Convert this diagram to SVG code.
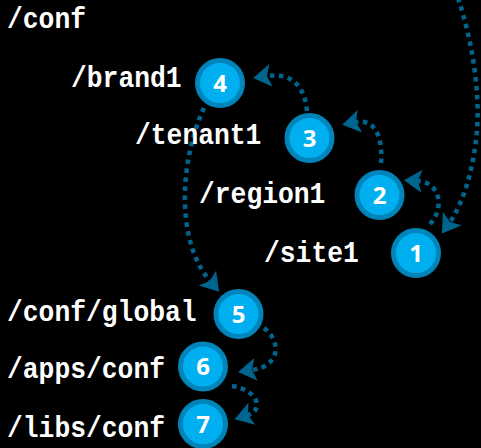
<svg xmlns="http://www.w3.org/2000/svg" width="481" height="448" viewBox="0 0 481 448">
<style>
.lbl{font-family:"Liberation Mono","Courier New",monospace;font-weight:bold;font-size:29px;fill:#ffffff}
.num{font-family:"Open Sans","Noto Sans",sans-serif;font-weight:bold;font-size:24px;fill:#ffffff;text-anchor:middle}
.ring{fill:#00AFEF;stroke:#0084B9;stroke-width:5}
.con{fill:none;stroke:#00658E;stroke-width:4.5;stroke-dasharray:4.5 4.5;marker-end:url(#arr)}
</style>
<defs>
<marker id="arr" markerUnits="userSpaceOnUse" markerWidth="40" markerHeight="40" refX="0" refY="0" orient="auto" overflow="visible">
<path d="M-4,-11.5 L14,0 L-4,11.5 L0,0 Z" fill="#00658E"/>
</marker>
</defs>
<rect width="481" height="448" fill="#000000"/>
<g id="connectors">
<path class="con" d="M458,-2 C472,40 480,90 477,130 C474,170 462,205 450,222"/>
<path class="con" d="M430,224 C445,208 440,182 418,181"/>
<path class="con" d="M381,163 C383,140 376,118 356,122"/>
<path class="con" d="M307,111 C305,90 295,72 267,76"/>
<path class="con" d="M204,108 C180,160 175,240 210,281"/>
<path class="con" d="M264,328 C282,342 280,366 252,370"/>
<path class="con" d="M232,386 C258,390 264,410 248,415"/>
</g>
<g id="conf"><text class="lbl" x="7" y="28" textLength="79" lengthAdjust="spacingAndGlyphs">/conf</text></g>
<g id="n4"><text class="lbl" x="71" y="87" textLength="110.6" lengthAdjust="spacingAndGlyphs">/brand1</text><circle class="ring" cx="220" cy="83" r="22.5"/><text class="num" x="220" y="91.5">4</text></g>
<g id="n3"><text class="lbl" x="135" y="144" textLength="126.4" lengthAdjust="spacingAndGlyphs">/tenant1</text><circle class="ring" cx="309.5" cy="138" r="22.5"/><text class="num" x="309.5" y="146.5">3</text></g>
<g id="n2"><text class="lbl" x="199" y="203" textLength="126.4" lengthAdjust="spacingAndGlyphs">/region1</text><circle class="ring" cx="379.5" cy="195" r="22.5"/><text class="num" x="379.5" y="203.5">2</text></g>
<g id="n1"><text class="lbl" x="264" y="262" textLength="94.8" lengthAdjust="spacingAndGlyphs">/site1</text><circle class="ring" cx="416" cy="253" r="22.5"/><text class="num" x="416" y="261.5">1</text></g>
<g id="n5"><text class="lbl" x="7" y="321" textLength="189.6" lengthAdjust="spacingAndGlyphs">/conf/global</text><circle class="ring" cx="238.5" cy="314" r="22.5"/><text class="num" x="238.5" y="322.5">5</text></g>
<g id="n6"><text class="lbl" x="7" y="378" textLength="158" lengthAdjust="spacingAndGlyphs">/apps/conf</text><circle class="ring" cx="203" cy="366.5" r="22.5"/><text class="num" x="203" y="375">6</text></g>
<g id="n7"><text class="lbl" x="7" y="437" textLength="158" lengthAdjust="spacingAndGlyphs">/libs/conf</text><circle class="ring" cx="203" cy="424" r="22.5"/><text class="num" x="203" y="432.5">7</text></g>
</svg>
